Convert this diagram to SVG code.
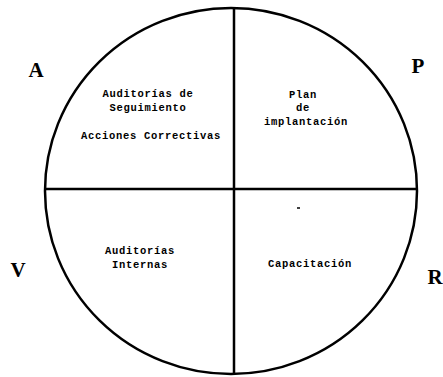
<svg xmlns="http://www.w3.org/2000/svg" width="443" height="377" viewBox="0 0 443 377">
<style>
.ln{stroke:#000;stroke-width:2.5;fill:none}
.t{font-family:"Liberation Mono","Courier New",monospace;font-weight:bold;font-size:10.5px;letter-spacing:0.7px;fill:#000;text-anchor:middle}
.big{font-family:"Liberation Serif","Times New Roman",serif;font-weight:bold;font-size:21px;fill:#000}
</style>
<rect width="443" height="377" fill="#fff"/>
<g id="connectors">
<ellipse class="ln" cx="231" cy="191" rx="186" ry="183"/>
<line class="ln" x1="234" y1="8" x2="234" y2="374"/>
<line class="ln" x1="45" y1="189" x2="417" y2="189"/>
<line x1="297" y1="208" x2="300" y2="208" stroke="#000" stroke-width="1.5"/>
</g>
<g id="act">
<text class="t" x="148" y="97">Auditorías de</text>
<text class="t" x="148" y="111">Seguimiento</text>
<text class="t" x="151" y="139">Acciones Correctivas</text>
</g>
<g id="plan">
<text class="t" x="303" y="98">Plan</text>
<text class="t" x="303" y="111">de</text>
<text class="t" x="306" y="125">implantación</text>
</g>
<g id="verificar">
<text class="t" x="140" y="254">Auditorías</text>
<text class="t" x="140" y="268">Internas</text>
</g>
<g id="realizar">
<text class="t" x="310" y="267">Capacitación</text>
</g>
<g id="letters">
<text class="big" x="36" y="77" text-anchor="middle">A</text>
<text class="big" x="418" y="73" text-anchor="middle">P</text>
<text class="big" x="18" y="277" text-anchor="middle">V</text>
<text class="big" x="435" y="284" text-anchor="middle">R</text>
</g>
</svg>
